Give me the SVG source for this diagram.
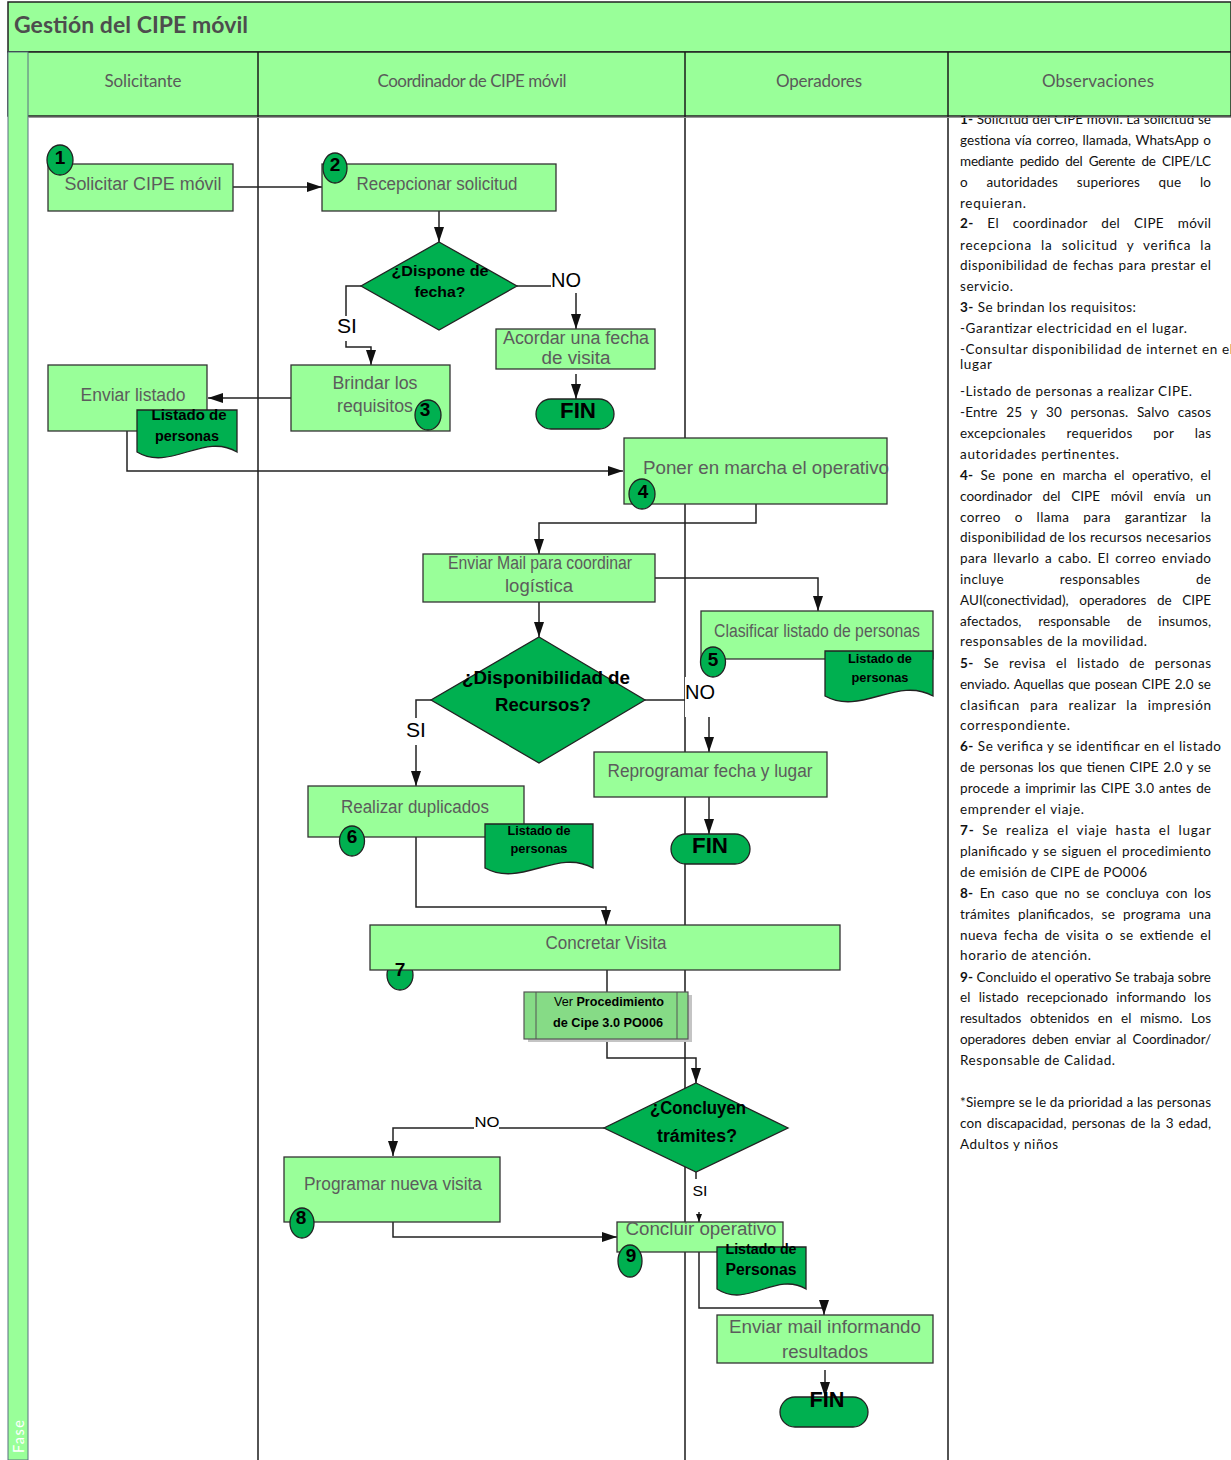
<svg xmlns="http://www.w3.org/2000/svg" width="1231" height="1460" viewBox="0 0 1231 1460">
<defs>
<marker id="ah" markerUnits="userSpaceOnUse" markerWidth="15" markerHeight="10" viewBox="0 0 15 10" refX="15" refY="5" orient="auto"><path d="M0,0 L15,5 L0,10 z" fill="#111"/></marker>
<marker id="ahs" markerUnits="userSpaceOnUse" markerWidth="8" markerHeight="6" viewBox="0 0 8 6" refX="8" refY="3" orient="auto"><path d="M0,0 L8,3 L0,6 z" fill="#111"/></marker>
<style>
.lane{stroke:#1a1a1a;stroke-width:1.5;fill:none}
.box{fill:#99FF99;stroke:#333;stroke-width:1.3}
.dk{fill:#00B050;stroke:#222;stroke-width:1.3}
.lbl{font-family:"Liberation Sans",Arial,sans-serif;font-size:18px;fill:#5c5c5c;text-anchor:middle}
.bd{font-family:"Liberation Sans",Arial,sans-serif;font-weight:bold;fill:#000;text-anchor:middle}
.num{font-family:"Liberation Sans",Arial,sans-serif;font-weight:bold;font-size:19px;fill:#000;text-anchor:middle}
.con{fill:none;stroke:#222;stroke-width:1.5}
.obs{font-family:Lato,"Open Sans",sans-serif;font-size:13.5px;fill:#111}
.hd{font-family:Lato,"Open Sans",sans-serif;font-size:17px;fill:#5a5a5a;text-anchor:middle}
.cl{font-family:"Liberation Sans",Arial,sans-serif;fill:#000;text-anchor:middle}
</style>
</defs>
<rect x="0" y="0" width="1231" height="1460" fill="#fff"/>

<g id="observaciones-texto" class="obs">
<text x="960" y="124" textLength="251"><tspan font-weight="bold">1-</tspan> Solicitud del CIPE móvil. La solicitud se</text>
<text x="960" y="145" textLength="251" word-spacing="1">gestiona vía correo, llamada, WhatsApp o</text>
<text x="960" y="166" textLength="251" word-spacing="3">mediante pedido del Gerente de CIPE/LC</text>
<text x="960" y="187" textLength="251" word-spacing="15">o autoridades superiores que lo</text>
<text x="960" y="208" textLength="66">requieran.</text>
<text x="960" y="228" textLength="251" word-spacing="10"><tspan font-weight="bold">2-</tspan> El coordinador del CIPE móvil</text>
<text x="960" y="250" textLength="251" word-spacing="5">recepciona la solicitud y verifica la</text>
<text x="960" y="270" textLength="251" word-spacing="1">disponibilidad de fechas para prestar el</text>
<text x="960" y="291" textLength="53">servicio.</text>
<text x="960" y="312" textLength="176"><tspan font-weight="bold">3-</tspan> Se brindan los requisitos:</text>
<text x="960" y="333" textLength="227">-Garantizar electricidad en el lugar.</text>
<text x="960" y="354" textLength="273">-Consultar disponibilidad de internet en el</text>
<text x="960" y="369" textLength="32">lugar</text>
<text x="960" y="396" textLength="232">-Listado de personas a realizar CIPE.</text>
<text x="960" y="417" textLength="251" word-spacing="5">-Entre 25 y 30 personas. Salvo casos</text>
<text x="960" y="438" textLength="251" word-spacing="17">excepcionales requeridos por las</text>
<text x="960" y="459" textLength="159">autoridades pertinentes.</text>
<text x="960" y="480" textLength="251" word-spacing="3.5"><tspan font-weight="bold">4-</tspan> Se pone en marcha el operativo, el</text>
<text x="960" y="501" textLength="251" word-spacing="7">coordinador del CIPE móvil envía un</text>
<text x="960" y="522" textLength="251" word-spacing="10">correo o llama para garantizar la</text>
<text x="960" y="542" textLength="251">disponibilidad de los recursos necesarios</text>
<text x="960" y="563" textLength="251" word-spacing="2">para llevarlo a cabo. El correo enviado</text>
<text x="960" y="584" textLength="251" word-spacing="52">incluye responsables de</text>
<text x="960" y="605" textLength="251" word-spacing="7">AUI(conectividad), operadores de CIPE</text>
<text x="960" y="626" textLength="251" word-spacing="13">afectados, responsable de insumos,</text>
<text x="960" y="646" textLength="187">responsables de la movilidad.</text>
<text x="960" y="668" textLength="251" word-spacing="6"><tspan font-weight="bold">5-</tspan> Se revisa el listado de personas</text>
<text x="960" y="689" textLength="251" word-spacing="1">enviado. Aquellas que posean CIPE 2.0 se</text>
<text x="960" y="710" textLength="251" word-spacing="6">clasifican para realizar la impresión</text>
<text x="960" y="730" textLength="110">correspondiente.</text>
<text x="960" y="751" textLength="261"><tspan font-weight="bold">6-</tspan> Se verifica y se identificar en el listado</text>
<text x="960" y="772" textLength="251" word-spacing="1">de personas los que tienen CIPE 2.0 y se</text>
<text x="960" y="793" textLength="251" word-spacing="1">procede a imprimir las CIPE 3.0 antes de</text>
<text x="960" y="814" textLength="124">emprender el viaje.</text>
<text x="960" y="835" textLength="251" word-spacing="3.5"><tspan font-weight="bold">7-</tspan> Se realiza el viaje hasta el lugar</text>
<text x="960" y="856" textLength="251" word-spacing="1">planificado y se siguen el procedimiento</text>
<text x="960" y="877" textLength="187">de emisión de CIPE de PO006</text>
<text x="960" y="898" textLength="251" word-spacing="3"><tspan font-weight="bold">8-</tspan> En caso que no se concluya con los</text>
<text x="960" y="919" textLength="251" word-spacing="4.5">trámites planificados, se programa una</text>
<text x="960" y="940" textLength="251" word-spacing="2.5">nueva fecha de visita o se extiende el</text>
<text x="960" y="960" textLength="131">horario de atención.</text>
<text x="960" y="982" textLength="251"><tspan font-weight="bold">9-</tspan> Concluido el operativo Se trabaja sobre</text>
<text x="960" y="1002" textLength="251" word-spacing="4.5">el listado recepcionado informando los</text>
<text x="960" y="1023" textLength="251" word-spacing="5">resultados obtenidos en el mismo. Los</text>
<text x="960" y="1044" textLength="251" word-spacing="3">operadores deben enviar al Coordinador/</text>
<text x="960" y="1065" textLength="155">Responsable de Calidad.</text>
<text x="960" y="1107" textLength="251">*Siempre se le da prioridad a las personas</text>
<text x="960" y="1128" textLength="251" word-spacing="1.5">con discapacidad, personas de la 3 edad,</text>
<text x="960" y="1149" textLength="98">Adultos y niños</text>
</g>

<g id="marco">
<rect x="8" y="2" width="1223" height="50" fill="#99FF99" stroke="#222" stroke-width="1.5"/>
<rect x="8" y="52" width="1223" height="64" fill="#99FF99" stroke="#222" stroke-width="1.5"/>
<rect x="8" y="52" width="20" height="1408" fill="#99FF99" stroke="#5b6f80" stroke-width="1"/>
<line class="lane" x1="258" y1="52" x2="258" y2="1460"/>
<line class="lane" x1="685" y1="52" x2="685" y2="1460"/>
<line class="lane" x1="948" y1="52" x2="948" y2="1460"/>
<line x1="28" y1="117.5" x2="1231" y2="117.5" stroke="#999" stroke-width="1"/>
<text x="14" y="33" font-family="Lato,'Open Sans',sans-serif" font-weight="bold" font-size="23" fill="#4d4d4d" textLength="234">Gestión del CIPE móvil</text>
<text class="hd" x="143" y="87" textLength="77">Solicitante</text>
<text class="hd" x="472" y="87" textLength="189">Coordinador de CIPE móvil</text>
<text class="hd" x="819" y="87" textLength="86">Operadores</text>
<text class="hd" x="1098" y="87" textLength="112">Observaciones</text>
<text transform="translate(24,1453) rotate(-90)" font-family="Lato,'Open Sans',sans-serif" font-size="14.5" fill="#fff" letter-spacing="1.5">Fase</text>
</g>

<g id="conectores">
<path class="con" d="M233,187 H322" marker-end="url(#ah)"/>
<path class="con" d="M439,211 V242" marker-end="url(#ah)"/>
<path class="con" d="M517,286 H551"/>
<path class="con" d="M576,293 V329" marker-end="url(#ah)"/>
<path class="con" d="M361,286 H346 V316"/>
<path class="con" d="M346,341 V347 H371 V365" marker-end="url(#ah)"/>
<path class="con" d="M576,374 V399" marker-end="url(#ah)"/>
<path class="con" d="M291,398 H208" marker-end="url(#ah)"/>
<path class="con" d="M127,431 V471 H623" marker-end="url(#ah)"/>
<path class="con" d="M756,504 V523 H539 V554" marker-end="url(#ah)"/>
<path class="con" d="M655,578 H818 V611" marker-end="url(#ah)"/>
<path class="con" d="M539,602 V637" marker-end="url(#ah)"/>
<path class="con" d="M645,700 H685"/>
<path class="con" d="M709,717 V752" marker-end="url(#ah)"/>
<path class="con" d="M431,700 H416 V718"/>
<path class="con" d="M416,745 V786" marker-end="url(#ah)"/>
<path class="con" d="M709,797 V834" marker-end="url(#ah)"/>
<path class="con" d="M416,837 V907 H606 V925" marker-end="url(#ah)"/>
<path class="con" d="M607,970 V992"/>
<path class="con" d="M607,1039 V1058 H696 V1083" marker-end="url(#ah)"/>
<path class="con" d="M604,1128 H499"/>
<path class="con" d="M474,1128 H393 V1156" marker-end="url(#ah)"/>
<path class="con" d="M696,1172 V1179"/>
<path class="con" d="M699,1212 V1222" marker-end="url(#ahs)"/>
<path class="con" d="M393,1222 V1237 H617" marker-end="url(#ah)"/>
<path class="con" d="M699,1252 V1308 H824 V1315" marker-end="url(#ah)"/>
<path class="con" d="M825,1370 V1397" marker-end="url(#ah)"/>
<rect x="685" y="677" width="31" height="40" fill="#fff"/>
<text x="566" y="287" font-family="'Liberation Sans',Arial,sans-serif" font-size="20" text-anchor="middle" fill="#000" textLength="30" lengthAdjust="spacingAndGlyphs">NO</text>
<text x="347" y="333" font-family="'Liberation Sans',Arial,sans-serif" font-size="20" text-anchor="middle" fill="#000" textLength="20" lengthAdjust="spacingAndGlyphs">SI</text>
<text x="700" y="699" font-family="'Liberation Sans',Arial,sans-serif" font-size="20" text-anchor="middle" fill="#000" textLength="30" lengthAdjust="spacingAndGlyphs">NO</text>
<text x="416" y="737" font-family="'Liberation Sans',Arial,sans-serif" font-size="20" text-anchor="middle" fill="#000" textLength="20" lengthAdjust="spacingAndGlyphs">SI</text>
<text x="487" y="1127" font-family="'Liberation Sans',Arial,sans-serif" font-size="15" text-anchor="middle" fill="#000" textLength="25" lengthAdjust="spacingAndGlyphs">NO</text>
<text x="700" y="1196" font-family="'Liberation Sans',Arial,sans-serif" font-size="15" text-anchor="middle" fill="#000" textLength="15" lengthAdjust="spacingAndGlyphs">SI</text>
</g>

<g id="n1">
<rect class="box" x="48" y="164" width="185" height="47"/>
<text class="lbl" x="143" y="190" textLength="157" lengthAdjust="spacingAndGlyphs">Solicitar CIPE móvil</text>
<ellipse class="dk" cx="60" cy="160" rx="13" ry="15"/>
<text class="num" x="60" y="164">1</text>
</g>

<g id="n2">
<rect class="box" x="322" y="164" width="234" height="47"/>
<text class="lbl" x="437" y="190" textLength="161" lengthAdjust="spacingAndGlyphs">Recepcionar solicitud</text>
<ellipse class="dk" cx="335" cy="168" rx="12" ry="15"/>
<text class="num" x="335" y="171">2</text>
</g>

<g id="d-dispone-fecha">
<polygon class="dk" points="439,242 517,286 439,330 361,286"/>
<text class="bd" x="440" y="276" font-size="15" textLength="97" lengthAdjust="spacingAndGlyphs">¿Dispone de</text>
<text class="bd" x="440" y="297" font-size="15" textLength="51" lengthAdjust="spacingAndGlyphs">fecha?</text>
</g>

<g id="n-acordar">
<rect class="box" x="496" y="329" width="159" height="40"/>
<text class="lbl" x="576" y="344" textLength="146" lengthAdjust="spacingAndGlyphs">Acordar una fecha</text>
<text class="lbl" x="576" y="364" textLength="69" lengthAdjust="spacingAndGlyphs">de visita</text>
</g>

<g id="fin1">
<rect class="dk" x="536" y="399" width="78" height="30" rx="15" ry="15"/>
<text class="bd" x="578" y="418" font-size="22" textLength="36" lengthAdjust="spacingAndGlyphs">FIN</text>
</g>

<g id="n3">
<rect class="box" x="291" y="365" width="159" height="66"/>
<text class="lbl" x="375" y="389" textLength="85" lengthAdjust="spacingAndGlyphs">Brindar los</text>
<text class="lbl" x="375" y="412" textLength="76" lengthAdjust="spacingAndGlyphs">requisitos</text>
<ellipse class="dk" cx="428" cy="415" rx="13" ry="15"/>
<text class="num" x="425" y="416">3</text>
</g>

<g id="n-enviar-listado">
<rect class="box" x="48" y="365" width="159" height="66"/>
<text class="lbl" x="133" y="401" textLength="105" lengthAdjust="spacingAndGlyphs">Enviar listado</text>
<path class="dk" d="M137,410 H237 V452 C204,432 170,472 137,452 Z"/>
<text class="bd" x="189" y="420" font-size="14" textLength="75" lengthAdjust="spacingAndGlyphs">Listado de</text>
<text class="bd" x="187" y="441" font-size="14" textLength="64" lengthAdjust="spacingAndGlyphs">personas</text>
</g>

<g id="n4">
<rect class="box" x="624" y="438" width="263" height="66"/>
<text class="lbl" x="766" y="474" textLength="246" lengthAdjust="spacingAndGlyphs">Poner en marcha el operativo</text>
<ellipse class="dk" cx="642" cy="494" rx="13" ry="15"/>
<text class="num" x="643" y="498">4</text>
</g>

<g id="n-enviar-mail">
<rect class="box" x="423" y="554" width="232" height="48"/>
<text class="lbl" x="540" y="569" textLength="184" lengthAdjust="spacingAndGlyphs">Enviar Mail para coordinar</text>
<text class="lbl" x="539" y="592" textLength="68" lengthAdjust="spacingAndGlyphs">logística</text>
</g>

<g id="n5">
<rect class="box" x="701" y="611" width="232" height="48"/>
<text class="lbl" x="817" y="637" textLength="206" lengthAdjust="spacingAndGlyphs">Clasificar listado de personas</text>
<path class="dk" d="M825,651 H933 V696 C897,676 861,716 825,696 Z"/>
<text class="bd" x="880" y="663" font-size="13" textLength="64" lengthAdjust="spacingAndGlyphs">Listado de</text>
<text class="bd" x="880" y="682" font-size="13" textLength="57" lengthAdjust="spacingAndGlyphs">personas</text>
<ellipse class="dk" cx="713" cy="662" rx="12.5" ry="15"/>
<text class="num" x="713" y="666">5</text>
</g>

<g id="d-disponibilidad">
<polygon class="dk" points="539,637 645,700 539,763 431,700"/>
<text class="bd" x="546" y="684" font-size="18" textLength="168" lengthAdjust="spacingAndGlyphs">¿Disponibilidad de</text>
<text class="bd" x="543" y="711" font-size="18" textLength="96" lengthAdjust="spacingAndGlyphs">Recursos?</text>
</g>

<g id="n-reprogramar">
<rect class="box" x="594" y="752" width="233" height="45"/>
<text class="lbl" x="710" y="777" textLength="205" lengthAdjust="spacingAndGlyphs">Reprogramar fecha y lugar</text>
</g>

<g id="fin2">
<rect class="dk" x="671" y="834" width="79" height="30" rx="15" ry="15"/>
<text class="bd" x="710" y="853" font-size="22" textLength="36" lengthAdjust="spacingAndGlyphs">FIN</text>
</g>

<g id="n6">
<rect class="box" x="308" y="786" width="216" height="51"/>
<text class="lbl" x="415" y="813" textLength="148" lengthAdjust="spacingAndGlyphs">Realizar duplicados</text>
<path class="dk" d="M485,824 H593 V868 C557,848 521,888 485,868 Z"/>
<text class="bd" x="539" y="835" font-size="13" textLength="63" lengthAdjust="spacingAndGlyphs">Listado de</text>
<text class="bd" x="539" y="853" font-size="13" textLength="57" lengthAdjust="spacingAndGlyphs">personas</text>
<ellipse class="dk" cx="352" cy="841" rx="12.5" ry="15"/>
<text class="num" x="352" y="843">6</text>
</g>

<g id="n7">
<ellipse class="dk" cx="400" cy="975" rx="13" ry="15"/>
<rect class="box" x="370" y="925" width="470" height="45"/>
<text class="lbl" x="606" y="949" textLength="121" lengthAdjust="spacingAndGlyphs">Concretar  Visita</text>
<text class="num" x="400" y="976">7</text>
</g>

<g id="sub-procedimiento">
<rect x="528" y="995" width="164" height="47" fill="#c4c4c4"/>
<rect x="524" y="992" width="164" height="47" fill="#86DB86" stroke="#555" stroke-width="1.2"/>
<line x1="536" y1="992" x2="536" y2="1039" stroke="#555" stroke-width="1"/>
<line x1="677" y1="992" x2="677" y2="1039" stroke="#555" stroke-width="1"/>
<text class="cl" x="609" y="1006" font-size="13" textLength="110" lengthAdjust="spacingAndGlyphs">Ver <tspan font-weight="bold">Procedimiento</tspan></text>
<text class="cl" x="608" y="1027" font-size="13" font-weight="bold" textLength="110" lengthAdjust="spacingAndGlyphs">de Cipe 3.0 PO006</text>
</g>

<g id="d-concluyen">
<polygon class="dk" points="696,1083 788,1128 696,1172 604,1128"/>
<text class="bd" x="698" y="1114" font-size="18" textLength="96" lengthAdjust="spacingAndGlyphs">¿Concluyen</text>
<text class="bd" x="697" y="1142" font-size="18" textLength="80" lengthAdjust="spacingAndGlyphs">trámites?</text>
</g>

<g id="n8">
<rect class="box" x="284" y="1157" width="216" height="65"/>
<text class="lbl" x="393" y="1190" textLength="178" lengthAdjust="spacingAndGlyphs">Programar nueva visita</text>
<ellipse class="dk" cx="302" cy="1223" rx="12" ry="15"/>
<text class="num" x="301" y="1224">8</text>
</g>

<g id="n9">
<rect class="box" x="617" y="1222" width="166" height="30"/>
<text class="lbl" x="701" y="1235" textLength="151" lengthAdjust="spacingAndGlyphs">Concluir operativo</text>
<path class="dk" d="M717,1247 H806 V1289 C776,1271 747,1309 717,1289 Z"/>
<text class="bd" x="761" y="1254" font-size="15" textLength="71" lengthAdjust="spacingAndGlyphs">Listado de</text>
<text class="bd" x="761" y="1275" font-size="16" textLength="71" lengthAdjust="spacingAndGlyphs">Personas</text>
<ellipse class="dk" cx="630" cy="1261" rx="12" ry="16"/>
<text class="num" x="631" y="1262">9</text>
</g>

<g id="n-enviar-resultados">
<rect class="box" x="717" y="1315" width="216" height="48"/>
<text class="lbl" x="825" y="1333" textLength="192" lengthAdjust="spacingAndGlyphs">Enviar mail informando</text>
<text class="lbl" x="825" y="1358" textLength="86" lengthAdjust="spacingAndGlyphs">resultados</text>
</g>

<g id="fin3">
<rect class="dk" x="780" y="1397" width="88" height="30" rx="15" ry="15"/>
<text class="bd" x="827" y="1407" font-size="22" textLength="35" lengthAdjust="spacingAndGlyphs">FIN</text>
</g>
</svg>
